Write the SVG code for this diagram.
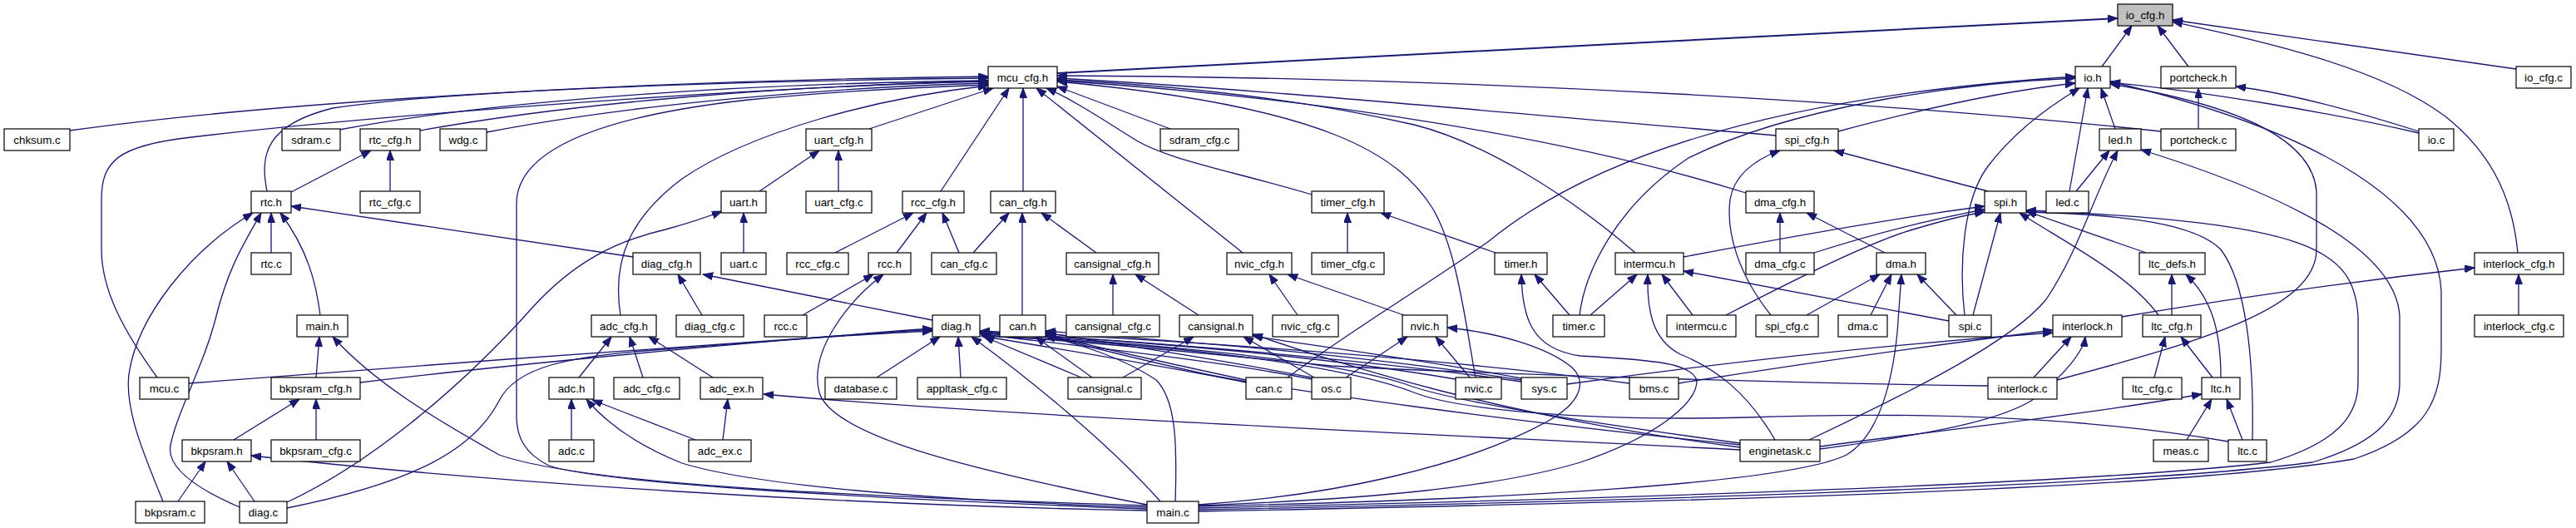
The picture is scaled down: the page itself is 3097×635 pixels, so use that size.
<svg xmlns="http://www.w3.org/2000/svg" width="3097" height="635" viewBox="0 0 3097 635">
<style>
.n rect{fill:#fff;stroke:#000;stroke-width:1.2}
.n text{font-family:"Liberation Sans",Arial,sans-serif;font-size:13.33px;text-anchor:middle;fill:#000}
.e path{fill:none;stroke:#191970;stroke-width:1.3;marker-end:url(#a)}
</style>
<defs>
<marker id="a" markerUnits="userSpaceOnUse" markerWidth="14" markerHeight="11" refX="12" refY="4.5" orient="auto"><path d="M0,0 L12,4.5 L0,9 z" fill="#191970" stroke="#191970" stroke-width="1"/></marker>
</defs>
<rect width="3097" height="635" fill="#fff"/>
<g id="edges" class="e">
<path d="M1271,88 C1600,72 2200,38 2546,22" style="stroke-width:2"/>
<path d="M2527,80 L2563,31"/>
<path d="M2631,80 L2594,31"/>
<path d="M3025,83 L2612,24"/>
<path d="M3027,304 C3020,230 2990,180 2940,140 C2860,80 2720,50 2612,26"/>
<path d="M84,157 C350,120 800,96 1188,92"/>
<path d="M321,230 C312,185 320,150 400,130 C550,108 900,97 1188,94"/>
<path d="M189,454 C150,400 122,350 122,300 L122,240 C122,195 140,175 230,165 C400,145 800,110 1188,97"/>
<path d="M408,156 C600,120 900,100 1188,97"/>
<path d="M505,157 C700,122 950,103 1188,98"/>
<path d="M585,159 C760,125 1000,105 1188,100"/>
<path d="M1379,612 C1000,598 720,580 660,560 C630,545 621,525 621,500 L621,245 C621,180 720,140 900,120 C1000,110 1100,105 1188,102"/>
<path d="M746,379 C735,310 760,260 820,215 C900,160 1050,118 1188,103"/>
<path d="M1045,155 L1194,106"/>
<path d="M1131,230 L1213,106"/>
<path d="M1230,230 L1230,106"/>
<path d="M1494,304 L1246,106"/>
<path d="M1577,234 C1480,205 1400,192 1360,165 C1320,140 1290,120 1258,106"/>
<path d="M1407,155 L1271,104"/>
<path d="M1774,454 C1762,390 1752,300 1722,250 C1682,188 1600,128 1271,98"/>
<path d="M1966,304 C1880,230 1780,170 1700,150 C1550,116 1400,102 1271,96"/>
<path d="M2135,163 C1800,135 1500,106 1271,94"/>
<path d="M2099,232 C1900,170 1600,118 1271,97"/>
<path d="M2598,158 C2300,126 1800,93 1271,91"/>
<path d="M1899,379 C1905,330 1940,250 2030,190 C2150,130 2350,100 2495,94"/>
<path d="M1548,454 C1620,400 1720,340 1790,290 C1900,200 2100,118 2495,92"/>
<path d="M2210,158 C2330,126 2420,108 2495,100"/>
<path d="M2362,379 C2355,320 2360,240 2390,200 C2420,160 2460,130 2500,106"/>
<path d="M2488,230 L2510,106"/>
<path d="M2543,155 L2526,106"/>
<path d="M2908,160 C2800,135 2650,110 2537,99"/>
<path d="M2473,457 C2650,410 2785,370 2785,300 L2785,230 C2780,170 2700,128 2537,101"/>
<path d="M1441,615 C1900,606 2600,592 2830,552 C2920,522 2935,480 2935,420 L2935,350 C2930,250 2800,160 2537,98"/>
<path d="M2908,158 C2820,130 2750,112 2688,104"/>
<path d="M2643,155 L2643,106"/>
<path d="M2496,230 L2536,181"/>
<path d="M2175,529 C2300,470 2420,410 2460,360 C2500,300 2515,240 2546,181"/>
<path d="M1441,613 C1900,604 2550,586 2780,556 C2860,532 2885,500 2885,460 L2885,380 C2880,300 2750,235 2574,180"/>
<path d="M2390,230 L2205,181"/>
<path d="M2129,379 C2090,330 2075,280 2080,240 C2085,210 2110,192 2140,181"/>
<path d="M2024,309 C2150,285 2280,262 2386,248"/>
<path d="M2181,304 C2250,282 2320,264 2386,252"/>
<path d="M2075,379 C2150,340 2250,290 2300,276 C2340,264 2365,258 2386,255"/>
<path d="M2372,379 L2405,256"/>
<path d="M2580,304 L2436,254"/>
<path d="M2595,379 C2560,330 2480,290 2428,256"/>
<path d="M2708,529 C2710,430 2700,340 2670,300 C2640,270 2560,258 2436,255"/>
<path d="M1441,611 C1900,601 2500,583 2730,556 C2810,532 2835,500 2835,460 L2835,380 C2830,300 2780,268 2436,253"/>
<path d="M2140,304 L2140,256"/>
<path d="M2266,304 L2172,256"/>
<path d="M2172,379 L2260,330"/>
<path d="M2249,379 L2274,330"/>
<path d="M1441,609 C1800,601 2150,582 2220,547 C2262,522 2276,450 2281,400 L2286,330"/>
<path d="M2352,379 L2305,330"/>
<path d="M1912,379 L1968,330"/>
<path d="M2134,529 C2100,470 2060,442 2020,426 C1985,408 1980,370 1981,330"/>
<path d="M2035,379 L1998,330"/>
<path d="M2343,386 L2024,326"/>
<path d="M1887,379 L1845,330"/>
<path d="M1441,608 C1650,600 1800,586 1900,556 C2000,522 2040,482 2040,458 C2035,437 1990,433 1900,428 C1840,420 1830,380 1829,330"/>
<path d="M1798,304 L1660,256"/>
<path d="M1620,304 L1620,256"/>
<path d="M1688,379 L1548,330"/>
<path d="M1560,379 L1526,330"/>
<path d="M1618,454 L1692,405"/>
<path d="M1767,454 L1726,405"/>
<path d="M1441,607 C1600,596 1760,562 1860,507 C1905,482 1906,457 1890,442 C1860,417 1800,400 1740,394"/>
<path d="M2611,379 L2611,330"/>
<path d="M2670,454 C2670,400 2660,360 2628,330"/>
<path d="M2590,454 L2603,405"/>
<path d="M2660,454 L2622,405"/>
<path d="M2629,529 L2659,480"/>
<path d="M2696,529 L2677,480"/>
<path d="M2188,537 C2350,515 2500,500 2647,474"/>
<path d="M2188,540 C2320,522 2400,507 2442,482 C2482,452 2505,422 2507,405"/>
<path d="M2445,454 L2490,405"/>
<path d="M2551,381 C2700,356 2850,336 2975,322"/>
<path d="M3028,379 L3028,330"/>
<path d="M1884,462 C2100,432 2300,412 2468,400"/>
<path d="M2018,461 C2200,432 2350,412 2468,397"/>
<path d="M2390,464 C2100,460 1750,448 1600,440 C1450,425 1300,410 1180,403"/>
<path d="M2679,531 C2500,500 2300,495 2100,502 C1900,507 1750,492 1700,472 C1600,433 1350,410 1180,404"/>
<path d="M1300,454 L1183,405"/>
<path d="M1498,460 C1400,440 1250,416 1180,404"/>
<path d="M1577,456 C1450,431 1250,411 1180,402"/>
<path d="M1750,456 C1550,422 1300,406 1178,400"/>
<path d="M1829,459 C1600,426 1300,406 1178,399"/>
<path d="M1959,461 C1700,426 1350,406 1178,398"/>
<path d="M2092,533 C1900,507 1740,482 1690,462 C1600,432 1350,410 1178,401"/>
<path d="M1395,603 C1330,530 1230,450 1168,405"/>
<path d="M1054,454 L1130,405"/>
<path d="M1155,454 L1152,405"/>
<path d="M227,461 C500,440 900,410 1121,396"/>
<path d="M433,460 C600,440 900,411 1121,395"/>
<path d="M345,611 C500,580 570,540 600,482 C620,442 680,428 800,420 C950,408 1050,401 1121,398"/>
<path d="M1313,454 L1245,405"/>
<path d="M1498,457 C1400,436 1300,413 1257,402"/>
<path d="M1577,454 C1450,429 1320,411 1257,400"/>
<path d="M1829,457 C1600,421 1350,406 1257,398"/>
<path d="M2092,535 C1800,505 1550,470 1450,450 C1350,428 1290,412 1257,403"/>
<path d="M1413,603 C1415,540 1415,482 1390,457 C1350,430 1300,415 1257,404"/>
<path d="M1350,454 L1435,405"/>
<path d="M1580,454 L1495,405"/>
<path d="M1829,455 C1700,431 1580,416 1506,404"/>
<path d="M2092,538 C1800,500 1620,440 1506,402"/>
<path d="M1441,379 L1365,330"/>
<path d="M1338,379 L1338,330"/>
<path d="M1318,304 L1252,256"/>
<path d="M1229,379 L1229,256"/>
<path d="M1170,304 L1213,256"/>
<path d="M1153,304 L1133,256"/>
<path d="M1078,304 L1114,256"/>
<path d="M1004,304 L1098,256"/>
<path d="M965,379 L1050,330"/>
<path d="M1379,607 C1150,562 1000,522 985,472 C972,422 1020,362 1062,330"/>
<path d="M1121,385 L845,330"/>
<path d="M844,379 L815,330"/>
<path d="M761,309 L350,248"/>
<path d="M696,454 L735,405"/>
<path d="M773,454 L757,405"/>
<path d="M857,454 L780,405"/>
<path d="M687,529 L687,480"/>
<path d="M836,529 L712,481"/>
<path d="M1379,610 C1100,601 900,582 820,557 C770,537 730,510 705,480"/>
<path d="M869,529 L875,480"/>
<path d="M2092,541 C1700,521 1200,500 918,474"/>
<path d="M281,529 L360,480"/>
<path d="M380,529 L380,480"/>
<path d="M380,454 L384,405"/>
<path d="M1379,608 C1000,596 700,582 600,547 C520,502 450,460 400,405"/>
<path d="M385,379 C380,340 370,300 337,256"/>
<path d="M326,304 L326,256"/>
<path d="M196,603 C170,540 150,490 155,450 C165,380 230,300 304,256"/>
<path d="M288,610 C230,585 200,560 205,535 C215,490 245,440 260,380 C275,320 295,290 314,256"/>
<path d="M214,603 L247,555"/>
<path d="M306,603 L273,555"/>
<path d="M1379,614 C1000,607 600,581 302,548"/>
<path d="M345,604 C450,555 560,460 640,370 C690,315 740,290 800,276 C830,268 850,261 868,254"/>
<path d="M913,230 L985,181"/>
<path d="M1008,230 L1008,181"/>
<path d="M894,304 L894,256"/>
<path d="M350,231 L446,181"/>
<path d="M469,230 L469,181"/>
</g>
<g id="n_io_cfg_h" class="n"><rect x="2546" y="5" width="66" height="26" style="fill:#bfbfbf"/><text x="2579" y="23">io_cfg.h</text></g>
<g id="n_mcu_cfg_h" class="n"><rect x="1188" y="80" width="83" height="26"/><text x="1229.5" y="98">mcu_cfg.h</text></g>
<g id="n_io_h" class="n"><rect x="2495" y="80" width="42" height="26"/><text x="2516" y="98">io.h</text></g>
<g id="n_portcheck_h" class="n"><rect x="2598" y="80" width="90" height="26"/><text x="2643" y="98">portcheck.h</text></g>
<g id="n_io_cfg_c" class="n"><rect x="3025" y="80" width="66" height="26"/><text x="3058" y="98">io_cfg.c</text></g>
<g id="n_chksum_c" class="n"><rect x="5" y="155" width="79" height="26"/><text x="44.5" y="173">chksum.c</text></g>
<g id="n_sdram_c" class="n"><rect x="339" y="155" width="70" height="26"/><text x="374" y="173">sdram.c</text></g>
<g id="n_rtc_cfg_h" class="n"><rect x="433" y="155" width="72" height="26"/><text x="469" y="173">rtc_cfg.h</text></g>
<g id="n_wdg_c" class="n"><rect x="529" y="155" width="56" height="26"/><text x="557" y="173">wdg.c</text></g>
<g id="n_uart_cfg_h" class="n"><rect x="969" y="155" width="79" height="26"/><text x="1008.5" y="173">uart_cfg.h</text></g>
<g id="n_sdram_cfg_c" class="n"><rect x="1395" y="155" width="94" height="26"/><text x="1442" y="173">sdram_cfg.c</text></g>
<g id="n_spi_cfg_h" class="n"><rect x="2135" y="155" width="75" height="26"/><text x="2172.5" y="173">spi_cfg.h</text></g>
<g id="n_led_h" class="n"><rect x="2524" y="155" width="50" height="26"/><text x="2549" y="173">led.h</text></g>
<g id="n_portcheck_c" class="n"><rect x="2598" y="155" width="90" height="26"/><text x="2643" y="173">portcheck.c</text></g>
<g id="n_io_c" class="n"><rect x="2908" y="155" width="42" height="26"/><text x="2929" y="173">io.c</text></g>
<g id="n_rtc_h" class="n"><rect x="302" y="230" width="48" height="26"/><text x="326" y="248">rtc.h</text></g>
<g id="n_rtc_cfg_c" class="n"><rect x="433" y="230" width="72" height="26"/><text x="469" y="248">rtc_cfg.c</text></g>
<g id="n_uart_h" class="n"><rect x="867" y="230" width="54" height="26"/><text x="894" y="248">uart.h</text></g>
<g id="n_uart_cfg_c" class="n"><rect x="969" y="230" width="79" height="26"/><text x="1008.5" y="248">uart_cfg.c</text></g>
<g id="n_rcc_cfg_h" class="n"><rect x="1085" y="230" width="74" height="26"/><text x="1122" y="248">rcc_cfg.h</text></g>
<g id="n_can_cfg_h" class="n"><rect x="1191" y="230" width="78" height="26"/><text x="1230" y="248">can_cfg.h</text></g>
<g id="n_timer_cfg_h" class="n"><rect x="1577" y="230" width="87" height="26"/><text x="1620.5" y="248">timer_cfg.h</text></g>
<g id="n_dma_cfg_h" class="n"><rect x="2099" y="230" width="82" height="26"/><text x="2140" y="248">dma_cfg.h</text></g>
<g id="n_spi_h" class="n"><rect x="2386" y="230" width="50" height="26"/><text x="2411" y="248">spi.h</text></g>
<g id="n_led_c" class="n"><rect x="2460" y="230" width="51" height="26"/><text x="2485.5" y="248">led.c</text></g>
<g id="n_rtc_c" class="n"><rect x="302" y="304" width="48" height="26"/><text x="326" y="322">rtc.c</text></g>
<g id="n_diag_cfg_h" class="n"><rect x="761" y="304" width="81" height="26"/><text x="801.5" y="322">diag_cfg.h</text></g>
<g id="n_uart_c" class="n"><rect x="867" y="304" width="54" height="26"/><text x="894" y="322">uart.c</text></g>
<g id="n_rcc_cfg_c" class="n"><rect x="946" y="304" width="74" height="26"/><text x="983" y="322">rcc_cfg.c</text></g>
<g id="n_rcc_h" class="n"><rect x="1044" y="304" width="51" height="26"/><text x="1069.5" y="322">rcc.h</text></g>
<g id="n_can_cfg_c" class="n"><rect x="1120" y="304" width="78" height="26"/><text x="1159" y="322">can_cfg.c</text></g>
<g id="n_cansignal_cfg_h" class="n"><rect x="1282" y="304" width="111" height="26"/><text x="1337.5" y="322">cansignal_cfg.h</text></g>
<g id="n_nvic_cfg_h" class="n"><rect x="1475" y="304" width="78" height="26"/><text x="1514" y="322">nvic_cfg.h</text></g>
<g id="n_timer_cfg_c" class="n"><rect x="1577" y="304" width="87" height="26"/><text x="1620.5" y="322">timer_cfg.c</text></g>
<g id="n_timer_h" class="n"><rect x="1797" y="304" width="63" height="26"/><text x="1828.5" y="322">timer.h</text></g>
<g id="n_intermcu_h" class="n"><rect x="1942" y="304" width="82" height="26"/><text x="1983" y="322">intermcu.h</text></g>
<g id="n_dma_cfg_c" class="n"><rect x="2099" y="304" width="82" height="26"/><text x="2140" y="322">dma_cfg.c</text></g>
<g id="n_dma_h" class="n"><rect x="2256" y="304" width="59" height="26"/><text x="2285.5" y="322">dma.h</text></g>
<g id="n_ltc_defs_h" class="n"><rect x="2572" y="304" width="79" height="26"/><text x="2611.5" y="322">ltc_defs.h</text></g>
<g id="n_interlock_cfg_h" class="n"><rect x="2975" y="304" width="107" height="26"/><text x="3028.5" y="322">interlock_cfg.h</text></g>
<g id="n_main_h" class="n"><rect x="357" y="379" width="61" height="26"/><text x="387.5" y="397">main.h</text></g>
<g id="n_adc_cfg_h" class="n"><rect x="711" y="379" width="78" height="26"/><text x="750" y="397">adc_cfg.h</text></g>
<g id="n_diag_cfg_c" class="n"><rect x="813" y="379" width="81" height="26"/><text x="853.5" y="397">diag_cfg.c</text></g>
<g id="n_rcc_c" class="n"><rect x="919" y="379" width="51" height="26"/><text x="944.5" y="397">rcc.c</text></g>
<g id="n_diag_h" class="n"><rect x="1121" y="379" width="57" height="26"/><text x="1149.5" y="397">diag.h</text></g>
<g id="n_can_h" class="n"><rect x="1202" y="379" width="55" height="26"/><text x="1229.5" y="397">can.h</text></g>
<g id="n_cansignal_cfg_c" class="n"><rect x="1282" y="379" width="112" height="26"/><text x="1338" y="397">cansignal_cfg.c</text></g>
<g id="n_cansignal_h" class="n"><rect x="1418" y="379" width="88" height="26"/><text x="1462" y="397">cansignal.h</text></g>
<g id="n_nvic_cfg_c" class="n"><rect x="1530" y="379" width="79" height="26"/><text x="1569.5" y="397">nvic_cfg.c</text></g>
<g id="n_nvic_h" class="n"><rect x="1686" y="379" width="54" height="26"/><text x="1713" y="397">nvic.h</text></g>
<g id="n_timer_c" class="n"><rect x="1867" y="379" width="62" height="26"/><text x="1898" y="397">timer.c</text></g>
<g id="n_intermcu_c" class="n"><rect x="2004" y="379" width="83" height="26"/><text x="2045.5" y="397">intermcu.c</text></g>
<g id="n_spi_cfg_c" class="n"><rect x="2111" y="379" width="75" height="26"/><text x="2148.5" y="397">spi_cfg.c</text></g>
<g id="n_dma_c" class="n"><rect x="2210" y="379" width="59" height="26"/><text x="2239.5" y="397">dma.c</text></g>
<g id="n_spi_c" class="n"><rect x="2343" y="379" width="51" height="26"/><text x="2368.5" y="397">spi.c</text></g>
<g id="n_interlock_h" class="n"><rect x="2468" y="379" width="83" height="26"/><text x="2509.5" y="397">interlock.h</text></g>
<g id="n_ltc_cfg_h" class="n"><rect x="2576" y="379" width="70" height="26"/><text x="2611" y="397">ltc_cfg.h</text></g>
<g id="n_interlock_cfg_c" class="n"><rect x="2975" y="379" width="107" height="26"/><text x="3028.5" y="397">interlock_cfg.c</text></g>
<g id="n_mcu_c" class="n"><rect x="168" y="454" width="59" height="26"/><text x="197.5" y="472">mcu.c</text></g>
<g id="n_bkpsram_cfg_h" class="n"><rect x="326" y="454" width="107" height="26"/><text x="379.5" y="472">bkpsram_cfg.h</text></g>
<g id="n_adc_h" class="n"><rect x="660" y="454" width="54" height="26"/><text x="687" y="472">adc.h</text></g>
<g id="n_adc_cfg_c" class="n"><rect x="738" y="454" width="79" height="26"/><text x="777.5" y="472">adc_cfg.c</text></g>
<g id="n_adc_ex_h" class="n"><rect x="842" y="454" width="75" height="26"/><text x="879.5" y="472">adc_ex.h</text></g>
<g id="n_database_c" class="n"><rect x="992" y="454" width="86" height="26"/><text x="1035" y="472">database.c</text></g>
<g id="n_appltask_cfg_c" class="n"><rect x="1103" y="454" width="107" height="26"/><text x="1156.5" y="472">appltask_cfg.c</text></g>
<g id="n_cansignal_c" class="n"><rect x="1284" y="454" width="88" height="26"/><text x="1328" y="472">cansignal.c</text></g>
<g id="n_can_c" class="n"><rect x="1498" y="454" width="55" height="26"/><text x="1525.5" y="472">can.c</text></g>
<g id="n_os_c" class="n"><rect x="1577" y="454" width="47" height="26"/><text x="1600.5" y="472">os.c</text></g>
<g id="n_nvic_c" class="n"><rect x="1750" y="454" width="55" height="26"/><text x="1777.5" y="472">nvic.c</text></g>
<g id="n_sys_c" class="n"><rect x="1829" y="454" width="55" height="26"/><text x="1856.5" y="472">sys.c</text></g>
<g id="n_bms_c" class="n"><rect x="1959" y="454" width="59" height="26"/><text x="1988.5" y="472">bms.c</text></g>
<g id="n_interlock_c" class="n"><rect x="2390" y="454" width="83" height="26"/><text x="2431.5" y="472">interlock.c</text></g>
<g id="n_ltc_cfg_c" class="n"><rect x="2552" y="454" width="71" height="26"/><text x="2587.5" y="472">ltc_cfg.c</text></g>
<g id="n_ltc_h" class="n"><rect x="2647" y="454" width="46" height="26"/><text x="2670" y="472">ltc.h</text></g>
<g id="n_bkpsram_h" class="n"><rect x="219" y="529" width="83" height="26"/><text x="260.5" y="547">bkpsram.h</text></g>
<g id="n_bkpsram_cfg_c" class="n"><rect x="326" y="529" width="107" height="26"/><text x="379.5" y="547">bkpsram_cfg.c</text></g>
<g id="n_adc_c" class="n"><rect x="660" y="529" width="54" height="26"/><text x="687" y="547">adc.c</text></g>
<g id="n_adc_ex_c" class="n"><rect x="828" y="529" width="75" height="26"/><text x="865.5" y="547">adc_ex.c</text></g>
<g id="n_enginetask_c" class="n"><rect x="2092" y="529" width="96" height="26"/><text x="2140" y="547">enginetask.c</text></g>
<g id="n_meas_c" class="n"><rect x="2589" y="529" width="66" height="26"/><text x="2622" y="547">meas.c</text></g>
<g id="n_ltc_c" class="n"><rect x="2679" y="529" width="46" height="26"/><text x="2702" y="547">ltc.c</text></g>
<g id="n_bkpsram_c" class="n"><rect x="163" y="603" width="83" height="26"/><text x="204.5" y="621">bkpsram.c</text></g>
<g id="n_diag_c" class="n"><rect x="288" y="603" width="57" height="26"/><text x="316.5" y="621">diag.c</text></g>
<g id="n_main_c" class="n"><rect x="1379" y="603" width="62" height="26"/><text x="1410" y="621">main.c</text></g>
</svg>
